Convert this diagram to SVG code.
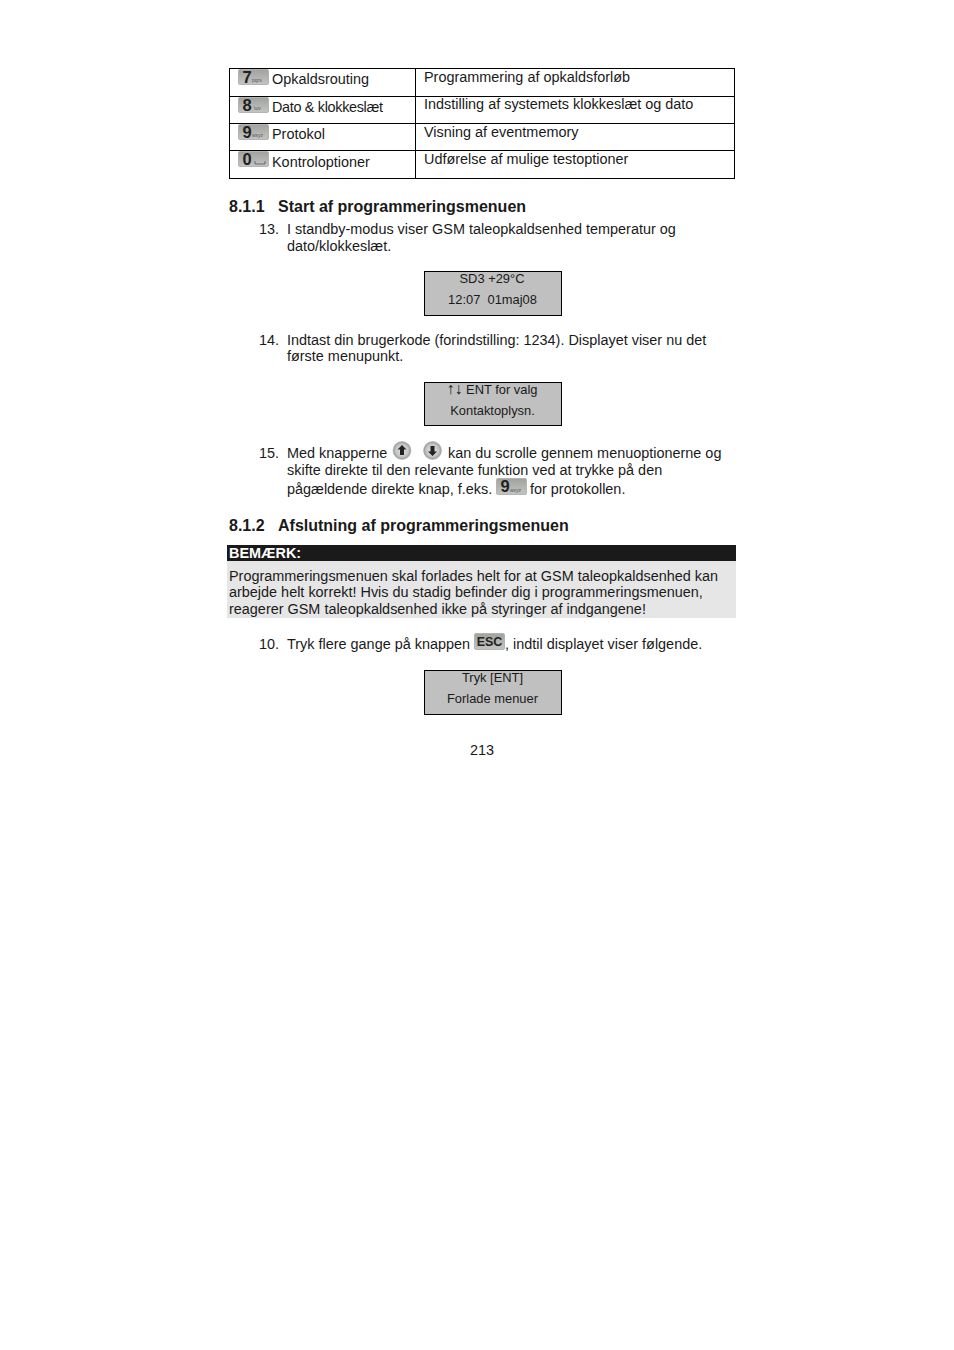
<svg xmlns="http://www.w3.org/2000/svg" width="954" height="1350" viewBox="0 0 954 1350">
<defs>
<linearGradient id="kg" x1="0" y1="0" x2="0" y2="1"><stop offset="0" stop-color="#a0a29e"/><stop offset="1" stop-color="#c4c5c2"/></linearGradient>
<radialGradient id="rb"><stop offset="0" stop-color="#e8e8e8"/><stop offset="0.7" stop-color="#c4c4c4"/><stop offset="1" stop-color="#969696"/></radialGradient>
</defs>
<style>
text{font-family:"Liberation Sans",Arial,sans-serif;font-size:14.43px;fill:#1a1a1a}
.h{font-weight:bold;font-size:16px}
.d{font-size:12.9px;text-anchor:middle}
.lcd{fill:#c0c0c0;stroke:#000;stroke-width:1}
.key{fill:url(#kg);stroke:#b4b5b2;stroke-width:1}
.kn{font-weight:bold;font-size:16.5px;fill:#222}
.ks{font-size:5px;fill:#555}
.line{stroke:#000;stroke-width:1;fill:none}
.rb{fill:url(#rb);stroke:#aaa;stroke-width:.5}
</style>
<rect width="954" height="1350" fill="#fff"/>
<g id="table">
<rect class="line" x="229.500" y="68.500" width="505" height="110"/>
<path class="line" d="M415.500 68.500V178.500M229.500 96.500H734.500M229.500 123.500H734.500M229.500 150.500H734.500"/>
<g id="key7"><rect class="key" x="238.500" y="69.500" width="30" height="15" rx="1.500"/><text class="kn" x="242.500" y="82.500">7</text><text class="ks" x="252" y="82">pqrs</text></g>
<text x="272" y="84">Opkaldsrouting</text>
<text x="424" y="82">Programmering af opkaldsforløb</text>
<g id="key8"><rect class="key" x="238.500" y="97.500" width="30" height="15" rx="1.500"/><text class="kn" x="242.500" y="110.500">8</text><text class="ks" x="254" y="110">tuv</text></g>
<text x="272" y="112" textLength="111" lengthAdjust="spacing">Dato &amp; klokkeslæt</text>
<text x="424" y="109">Indstilling af systemets klokkeslæt og dato</text>
<g id="key9"><rect class="key" x="238.500" y="124.500" width="30" height="15" rx="1.500"/><text class="kn" x="242.500" y="137.500">9</text><text class="ks" x="252" y="137">wxyz</text></g>
<text x="272" y="139">Protokol</text>
<text x="424" y="137">Visning af eventmemory</text>
<g id="key0"><rect class="key" x="238.500" y="151.500" width="30" height="15" rx="1.500"/><text class="kn" x="242.500" y="164.500">0</text><path d="M255 161v3h10v-3" fill="none" stroke="#555" stroke-width=".8"/></g>
<text x="272" y="167">Kontroloptioner</text>
<text x="424" y="164">Udførelse af mulige testoptioner</text>
</g>
<text class="h" x="229" y="212">8.1.1</text><text class="h" x="278" y="212">Start af programmeringsmenuen</text>
<text x="259" y="234">13.</text><text x="287" y="234">I standby-modus viser GSM taleopkaldsenhed temperatur og</text>
<text x="287" y="251">dato/klokkeslæt.</text>
<g id="lcd1"><rect class="lcd" x="424.500" y="271.500" width="137" height="44"/><text class="d" x="492" y="283">SD3 +29°C</text><text class="d" x="492.500" y="304" xml:space="preserve">12:07  01maj08</text></g>
<text x="259" y="345">14.</text><text x="287" y="345">Indtast din brugerkode (forindstilling: 1234). Displayet viser nu det</text>
<text x="287" y="361">første menupunkt.</text>
<g id="lcd2"><rect class="lcd" x="424.500" y="382.500" width="137" height="43"/><text class="d" x="492" y="394"><tspan style="font-size:16px">↑↓</tspan> ENT for valg</text><text class="d" x="492.500" y="415">Kontaktoplysn.</text></g>
<text x="259" y="458">15.</text><text x="287" y="458">Med knapperne</text>
<g id="keyUp"><circle class="rb" cx="402" cy="450.500" r="9"/><path d="M402 445l4.500 4.500h-2.500v5.500h-4v-5.500h-2.500z" fill="#222"/></g>
<g id="keyDown"><circle class="rb" cx="432.500" cy="450.500" r="9"/><path d="M432.500 456l4.500-4.500h-2.500v-5.500h-4v5.500h-2.500z" fill="#222"/></g>
<text x="448" y="458">kan du scrolle gennem menuoptionerne og</text>
<text x="287" y="475">skifte direkte til den relevante funktion ved at trykke på den</text>
<text x="287" y="494">pågældende direkte knap, f.eks.</text>
<g id="key9b"><rect class="key" x="496.500" y="478.500" width="30" height="16" rx="1.500"/><text class="kn" x="500.500" y="492">9</text><text class="ks" x="510" y="492">wxyz</text></g>
<text x="530" y="494">for protokollen.</text>
<text class="h" x="229" y="531">8.1.2</text><text class="h" x="278" y="531">Afslutning af programmeringsmenuen</text>
<g id="note">
<rect x="227" y="545" width="509" height="16" fill="#1a1a1a"/>
<text x="229" y="558" style="font-weight:bold;fill:#fff">BEMÆRK:</text>
<rect x="227" y="561" width="509" height="57" fill="#e6e6e6"/>
<text x="229" y="581">Programmeringsmenuen skal forlades helt for at GSM taleopkaldsenhed kan</text>
<text x="229" y="597">arbejde helt korrekt! Hvis du stadig befinder dig i programmeringsmenuen,</text>
<text x="229" y="614">reagerer GSM taleopkaldsenhed ikke på styringer af indgangene!</text>
</g>
<text x="259" y="649">10.</text><text x="287" y="649">Tryk flere gange på knappen</text>
<g id="keyEsc"><rect class="key" x="474.500" y="633.500" width="30" height="16" rx="1.500"/><text x="489.500" y="646" text-anchor="middle" style="font-weight:bold;font-size:12.500px;fill:#222">ESC</text></g>
<text x="505" y="649">, indtil displayet viser følgende.</text>
<g id="lcd3"><rect class="lcd" x="424.500" y="670.500" width="137" height="44"/><text class="d" x="492.500" y="682">Tryk [ENT]</text><text class="d" x="492.500" y="703">Forlade menuer</text></g>
<text x="470" y="755">213</text>
</svg>
